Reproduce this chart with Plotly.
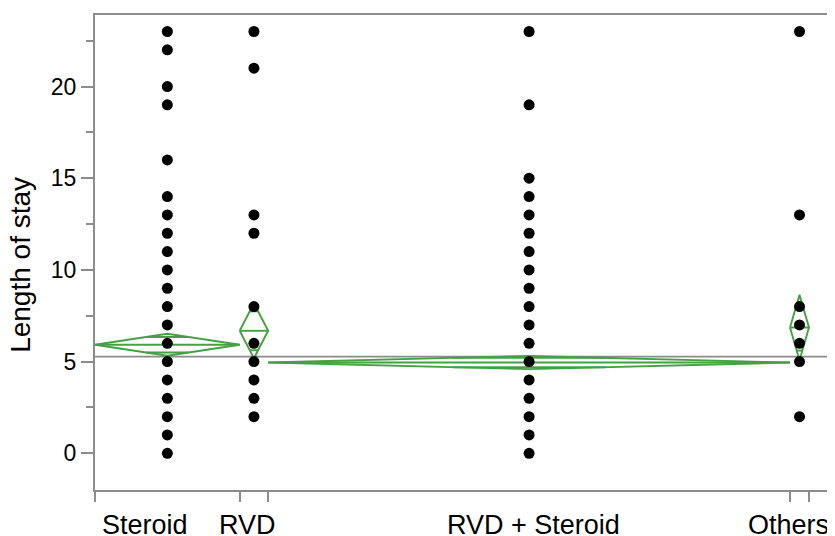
import plotly.graph_objects as go
import numpy as np

# ---- data ----
groups = ["Steroid", "RVD", "RVD + Steroid", "Others"]
group_n = [61, 12, 220, 8]  # sample sizes (x-axis proportional widths)
steroid_vals = [0, 1, 2, 3, 4, 5, 6, 7, 8, 9, 10, 11, 12, 13, 14, 16, 19, 20, 22, 23]
rvd_vals = [2, 3, 4, 5, 6, 8, 12, 13, 21, 23]
rvd_steroid_vals = [0, 1, 2, 3, 4, 5, 6, 7, 8, 9, 10, 11, 12, 13, 14, 15, 19, 23]
others_vals = [2, 5, 6, 7, 8, 13, 23]
group_vals = [steroid_vals, rvd_vals, rvd_steroid_vals, others_vals]
group_means = [5.92, 6.68, 4.95, 6.86]
group_ci_half = [0.60, 1.50, 0.36, 1.78]
grand_mean = 5.27
label_shift = [-22, -6, 4, -11]  # label offsets (px) from group centre

# ---- geometry from counts ----
bounds = np.concatenate([[0], np.cumsum(group_n)])
centers = (bounds[:-1] + bounds[1:]) / 2
x_max = bounds[-1] * 740 / 714

GREEN = "#45a045"
GRAY = "#8c8c8c"
FONT = "Liberation Sans, Arial, Helvetica, sans-serif"

fig = go.Figure()

# grand mean line
fig.add_trace(go.Scatter(x=[0, x_max], y=[grand_mean, grand_mean], mode="lines",
                         line=dict(color=GRAY, width=1.6), hoverinfo="skip", showlegend=False))

# means diamonds
for i in range(len(groups)):
    l, r, c = bounds[i], bounds[i + 1], centers[i]
    m, h = group_means[i], group_ci_half[i]
    xs = [l, c, r, c, l, None, l, r]
    ys = [m, m + h, m, m - h, m, None, m, m]
    # overlap marks
    k = 1 / np.sqrt(2)
    half_w = (r - l) / 2 * (1 - k)
    for s in (1, -1):
        xs += [None, c - half_w, c + half_w]
        ys += [None, m + s * h * k, m + s * h * k]
    fig.add_trace(go.Scatter(x=xs, y=ys, mode="lines", line=dict(color=GREEN, width=1.9),
                             hoverinfo="skip", showlegend=False))

# points
for i in range(len(groups)):
    fig.add_trace(go.Scatter(x=[centers[i]] * len(group_vals[i]), y=group_vals[i], mode="markers",
                             marker=dict(color="black", size=11), showlegend=False, name=groups[i]))

# category labels
for i, g in enumerate(groups):
    fig.add_annotation(x=centers[i], y=0, xref="x", yref="paper", text=g, showarrow=False,
                       xanchor="center", yanchor="middle", yshift=-35, xshift=label_shift[i],
                       font=dict(size=27, color="black", family=FONT))

# y title
fig.add_annotation(x=-0.1, y=0.474, xref="paper", yref="paper", text="Length of stay",
                   showarrow=False, textangle=-90, xanchor="center", yanchor="middle",
                   font=dict(size=28, color="black", family=FONT))

fig.update_layout(
    width=835, height=536,
    margin=dict(l=87, r=8, t=5, b=54),
    plot_bgcolor="white", paper_bgcolor="white",
    font=dict(family=FONT, color="black"),
    xaxis=dict(range=[0, x_max], tickvals=list(bounds), ticktext=[""] * len(bounds),
               ticks="outside", ticklen=10, tickwidth=1.6, tickcolor=GRAY,
               showline=True, linecolor=GRAY, linewidth=2, mirror=True,
               showgrid=False, zeroline=False),
    yaxis=dict(range=[-2, 23.9], tickvals=[0, 5, 10, 15, 20], ticks="outside", ticklen=12,
               tickwidth=1.6, tickcolor=GRAY, tickfont=dict(size=23, color="black"),
               showline=True, linecolor=GRAY, linewidth=2, showgrid=False, zeroline=False,
               minor=dict(tickvals=[-2.5, 2.5, 7.5, 12.5, 17.5, 22.5], ticks="outside",
                          ticklen=7, tickcolor=GRAY, tickwidth=1.6, showgrid=False)),
)

fig.write_html("out.html")
